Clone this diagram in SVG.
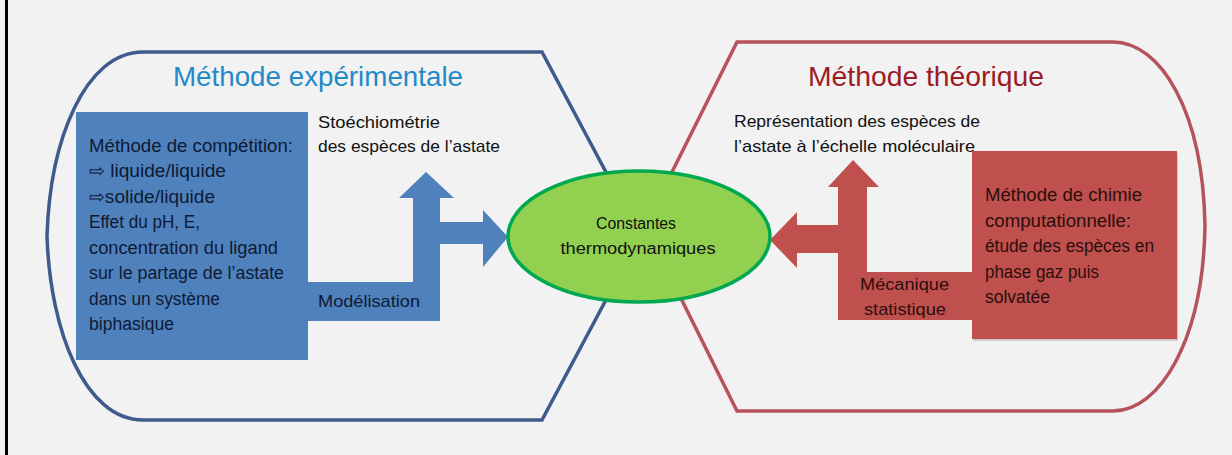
<svg xmlns="http://www.w3.org/2000/svg" width="1232" height="455" viewBox="0 0 1232 455">
<style>
  text { font-family: "Liberation Sans", Arial, sans-serif; }
  .title { font-size: 28px; }
  .t18 { font-size: 18px; }
  .t17 { font-size: 17px; }
  .t16 { font-size: 16px; }
  .blueTxt { fill: #0E1A33; }
  .redTxt { fill: #2B0E0E; }
  .dark { fill: #111111; }
  .frameBlue { fill: none; stroke: #3F5B8C; stroke-width: 3.5; stroke-linejoin: miter; }
  .frameRed { fill: none; stroke: #B5525A; stroke-width: 3.5; stroke-linejoin: miter; }
</style>
<rect x="0" y="0" width="1232" height="455" fill="#F2F2F2"/>
<rect x="5" y="0" width="3" height="455" fill="#000000"/>

<g id="frame-experimentale">
  <path class="frameBlue" d="M143,52 L542,52 L640,236 L542,420 L143,420 C85,420 50,331 47,236 C50,140 85,52 143,52 Z"/>
  <text class="title" x="173" y="86" fill="#2389C8" textLength="290" lengthAdjust="spacingAndGlyphs">Méthode expérimentale</text>
</g>

<g id="frame-theorique">
  <path class="frameRed" d="M737,42 L1113,42 C1160,42 1203,110 1205,226 C1203,340 1160,411 1113,411 L737,411 L645,226 Z"/>
  <text class="title" x="808" y="86" fill="#9B1C24" textLength="236" lengthAdjust="spacingAndGlyphs">Méthode théorique</text>
</g>

<g id="connectors">
  <path id="arrow-blue" fill="#4F81BD" d="M308,282 L413,282 L413,198 L399,198 L426,172 L454,198 L440,198 L440,222 L483,222 L483,210 L508,237 L483,267 L483,244 L440,244 L440,321 L308,321 Z"/>
  <path id="arrow-red" fill="#C0504D" d="M972,272 L867,272 L867,187 L879,187 L853,160 L828,187 L838,187 L838,225 L797,225 L797,212 L770,240 L797,268 L797,253 L838,253 L838,320 L972,320 Z"/>
  <text class="t17 blueTxt" x="318" y="307" textLength="102" lengthAdjust="spacingAndGlyphs">Modélisation</text>
  <text class="t17 dark" x="318" y="128" textLength="122" lengthAdjust="spacingAndGlyphs">Stoéchiométrie</text>
  <text class="t17 dark" x="318" y="152" textLength="182" lengthAdjust="spacingAndGlyphs">des espèces de l’astate</text>
  <text class="t17 redTxt" x="860" y="290" textLength="89" lengthAdjust="spacingAndGlyphs">Mécanique</text>
  <text class="t17 redTxt" x="864" y="315" textLength="82" lengthAdjust="spacingAndGlyphs">statistique</text>
  <text class="t17 dark" x="734" y="127" textLength="246" lengthAdjust="spacingAndGlyphs">Représentation des espèces de</text>
  <text class="t17 dark" x="734" y="152" textLength="241" lengthAdjust="spacingAndGlyphs">l’astate à l’échelle moléculaire</text>
</g>

<g id="box-experimental">
  <rect x="76" y="112" width="232" height="248" fill="#4F81BD"/>
  <text class="t18 blueTxt" x="89" y="152" textLength="204" lengthAdjust="spacingAndGlyphs">Méthode de compétition:</text>
  <text class="t18 blueTxt" x="89" y="177" textLength="137" lengthAdjust="spacingAndGlyphs">⇨ liquide/liquide</text>
  <text class="t18 blueTxt" x="89" y="203" textLength="126" lengthAdjust="spacingAndGlyphs">⇨solide/liquide</text>
  <text class="t18 blueTxt" x="89" y="228" textLength="111" lengthAdjust="spacingAndGlyphs">Effet du pH, E,</text>
  <text class="t18 blueTxt" x="89" y="254" textLength="189" lengthAdjust="spacingAndGlyphs">concentration du ligand</text>
  <text class="t18 blueTxt" x="89" y="279" textLength="195" lengthAdjust="spacingAndGlyphs">sur le partage de l’astate</text>
  <text class="t18 blueTxt" x="89" y="305" textLength="131" lengthAdjust="spacingAndGlyphs">dans un système</text>
  <text class="t18 blueTxt" x="89" y="330" textLength="85" lengthAdjust="spacingAndGlyphs">biphasique</text>
</g>

<g id="box-theorique">
  <rect x="973" y="153" width="205" height="188" fill="#D0CCCC"/>
  <rect x="972" y="151" width="205" height="188" fill="#C0504D"/>
  <text class="t18 redTxt" x="985" y="201" textLength="157" lengthAdjust="spacingAndGlyphs">Méthode de chimie</text>
  <text class="t18 redTxt" x="985" y="227" textLength="146" lengthAdjust="spacingAndGlyphs">computationnelle:</text>
  <text class="t18 redTxt" x="985" y="252" textLength="169" lengthAdjust="spacingAndGlyphs">étude des espèces en</text>
  <text class="t18 redTxt" x="985" y="278" textLength="114" lengthAdjust="spacingAndGlyphs">phase gaz puis</text>
  <text class="t18 redTxt" x="985" y="303" textLength="65" lengthAdjust="spacingAndGlyphs">solvatée</text>
</g>

<g id="node-constantes">
  <ellipse cx="639" cy="236.5" rx="131" ry="65.5" fill="#92D050" stroke="#00A84F" stroke-width="3.5"/>
  <text class="t16 dark" x="636" y="229" text-anchor="middle" textLength="80" lengthAdjust="spacingAndGlyphs">Constantes</text>
  <text class="t16 dark" x="638" y="254" text-anchor="middle" textLength="155" lengthAdjust="spacingAndGlyphs">thermodynamiques</text>
</g>
</svg>
